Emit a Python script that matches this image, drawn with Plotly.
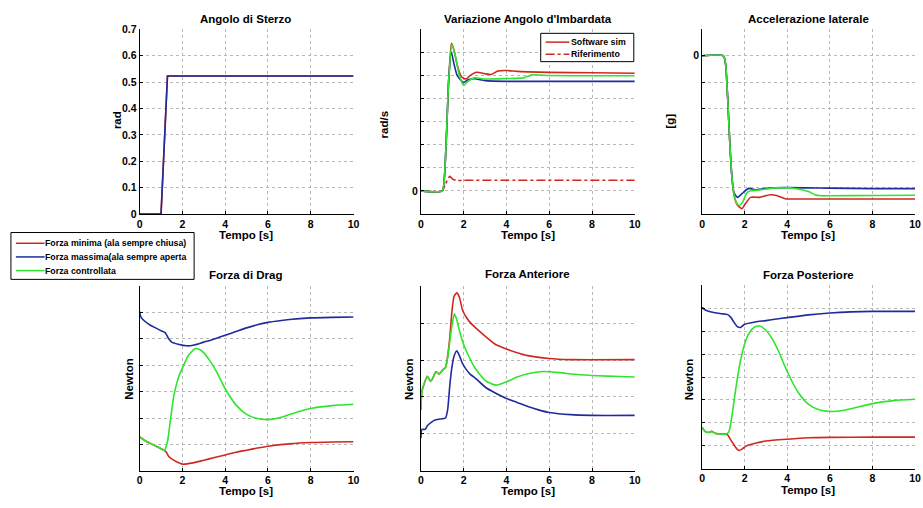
import plotly.graph_objects as go

W, H = 923, 508

# ---------------- data ----------------
series_names = ["Forza minima (ala sempre chiusa)",
                "Forza massima(ala sempre aperta",
                "Forza controllata"]
yaw_legend = ["Software sim", "Riferimento"]

# Angolo di Sterzo [rad]
steer_t = [0, 1.0, 1.3, 10]
steer_min = [0, 0, 0.5236, 0.5236]
steer_max = [0, 0, 0.5236, 0.5236]

# Variazione Angolo d'Imbardata (grid units)
yaw_min_t = [0, 1.0, 1.1, 1.2, 1.3, 1.43, 1.55, 1.7, 1.9, 2.1, 2.3, 2.6, 3.0, 3.3, 3.6, 4.0, 4.5, 5, 6, 8, 10]
yaw_min = [0, 0, 0.6, 2.5, 4.8, 6.4, 6.1, 5.45, 4.95, 4.85, 5.0, 5.14, 5.08, 5.05, 5.2, 5.22, 5.18, 5.16, 5.14, 5.12, 5.1]
yaw_max_t = [0, 1.0, 1.1, 1.2, 1.3, 1.42, 1.55, 1.7, 2.0, 2.2, 2.5, 3.0, 4.0, 6.0, 8, 10]
yaw_max = [0, 0, 0.6, 2.5, 4.8, 6.02, 5.5, 5.0, 4.7, 4.82, 4.86, 4.78, 4.75, 4.75, 4.75, 4.75]
yaw_ctl_t = [0, 1.0, 1.1, 1.2, 1.3, 1.45, 1.6, 1.8, 2.0, 2.2, 2.5, 3.0, 4.0, 4.8, 5.2, 5.6, 6.0, 8, 10]
yaw_ctl = [0, 0, 0.6, 2.5, 4.8, 6.35, 5.9, 5.0, 4.58, 4.75, 4.9, 4.85, 4.87, 4.9, 5.03, 5.02, 5.0, 4.99, 4.99]
yaw_ref_t = [0, 1.0, 1.15, 1.35, 1.5, 1.7, 2.0, 10]
yaw_ref = [0, 0, 0.3, 0.63, 0.5, 0.45, 0.46, 0.46]

# Accelerazione laterale (grid units)
acc_min_t = [0, 1.0, 1.1, 1.2, 1.3, 1.4, 1.5, 1.65, 1.87, 2.0, 2.27, 2.7, 3.2, 3.5, 3.9, 5, 10]
acc_min = [0, 0, -0.3, -1.6, -3.3, -4.6, -5.3, -5.65, -5.8, -5.65, -5.37, -5.37, -5.27, -5.3, -5.42, -5.43, -5.43]
acc_max_t = [0, 1.0, 1.1, 1.2, 1.3, 1.4, 1.5, 1.66, 1.85, 2.05, 2.2, 2.5, 3, 4, 6, 8, 10]
acc_max = [0, 0, -0.3, -1.6, -3.3, -4.6, -5.2, -5.37, -5.25, -5.1, -5.03, -5.08, -5.03, -5.0, -5.02, -5.04, -5.04]
acc_ctl_t = [0, 1.0, 1.1, 1.2, 1.3, 1.4, 1.5, 1.6, 1.73, 1.9, 2.1, 2.27, 2.6, 3.0, 3.8, 4.5, 5.0, 5.3, 5.6, 6.0, 8, 10]
acc_ctl = [0, 0, -0.3, -1.6, -3.3, -4.6, -5.25, -5.55, -5.68, -5.55, -5.2, -5.12, -5.1, -5.05, -5.0, -5.05, -5.15, -5.27, -5.31, -5.31, -5.3, -5.29]

# Forza di Drag (grid units)
drag_min_t = [0, 0.3, 0.6, 0.9, 1.15, 1.25, 1.35, 1.5, 1.75, 2.0, 2.5, 3.0, 3.5, 4.0, 4.5, 5.0, 5.5, 6.0, 7.0, 8.0, 9.0, 10]
drag_min = [1.28, 1.12, 1.0, 0.88, 0.77, 0.7, 0.55, 0.45, 0.33, 0.25, 0.3, 0.4, 0.5, 0.6, 0.7, 0.78, 0.86, 0.93, 1.02, 1.07, 1.09, 1.1]
drag_max_t = [0, 0.05, 0.2, 0.5, 0.8, 1.0, 1.2, 1.35, 1.5, 1.8, 2.2, 2.5, 3.0, 3.5, 4.0, 4.5, 5, 5.5, 6, 7, 8, 9, 10]
drag_max = [6.05, 5.85, 5.7, 5.52, 5.4, 5.31, 5.23, 5.02, 4.88, 4.8, 4.74, 4.76, 4.88, 5.0, 5.14, 5.28, 5.42, 5.54, 5.63, 5.74, 5.8, 5.82, 5.83]
drag_ctl_t = [0, 0.3, 0.6, 0.9, 1.15, 1.3, 1.45, 1.6, 1.8, 2.0, 2.3, 2.6, 2.8, 3.0, 3.3, 3.6, 4.0, 4.5, 5.0, 5.5, 6.0, 6.5, 7.0, 7.5, 8.0, 9.0, 10]
drag_ctl = [1.28, 1.12, 1.0, 0.88, 0.77, 1.1, 2.0, 2.85, 3.5, 3.9, 4.4, 4.63, 4.6, 4.47, 4.15, 3.75, 3.11, 2.5, 2.14, 1.98, 1.94, 2.0, 2.13, 2.26, 2.36, 2.47, 2.52]

# Forza Anteriore (grid units)
ant_min_t = [0, 0.05, 0.15, 0.3, 0.45, 0.55, 0.7, 0.85, 1.0, 1.15, 1.25, 1.35, 1.45, 1.55, 1.68, 1.8, 1.95, 2.1, 2.3, 2.6, 3.0, 3.5, 4.0, 4.5, 5.0, 6.0, 7.0, 10]
ant_min = [1.65, 2.15, 2.35, 2.56, 2.42, 2.5, 2.68, 2.62, 2.72, 2.8, 3.1, 3.6, 4.3, 4.72, 4.82, 4.7, 4.35, 4.18, 4.02, 3.85, 3.65, 3.42, 3.3, 3.2, 3.12, 3.04, 3.01, 3.01]
ant_max_t = [0, 0.05, 0.2, 0.3, 0.5, 0.7, 1.0, 1.15, 1.25, 1.35, 1.45, 1.55, 1.68, 1.8, 1.95, 2.1, 2.3, 2.6, 3.0, 3.5, 4.0, 4.5, 5.0, 5.5, 6.0, 7.0, 8.0, 10]
ant_max = [0.88, 1.12, 1.12, 1.22, 1.32, 1.38, 1.41, 1.43, 1.65, 2.3, 2.8, 3.1, 3.25, 3.12, 2.9, 2.76, 2.62, 2.48, 2.27, 2.1, 1.96, 1.85, 1.74, 1.65, 1.58, 1.52, 1.5, 1.5]
ant_ctl_t = [0, 0.05, 0.15, 0.3, 0.45, 0.55, 0.7, 0.85, 1.0, 1.15, 1.25, 1.35, 1.45, 1.57, 1.7, 1.8, 2.0, 2.2, 2.5, 3.0, 3.5, 4.0, 4.5, 5.0, 5.7, 6.5, 7.0, 8.0, 9.0, 10]
ant_ctl = [1.65, 2.15, 2.35, 2.56, 2.42, 2.5, 2.68, 2.62, 2.72, 2.8, 3.05, 3.5, 3.92, 4.25, 4.05, 3.8, 3.42, 3.15, 2.81, 2.45, 2.32, 2.41, 2.54, 2.63, 2.69, 2.66, 2.62, 2.58, 2.56, 2.54]

# Forza Posteriore (grid units)
post_min_t = [0, 0.15, 0.3, 0.45, 0.6, 0.8, 1.1, 1.2, 1.35, 1.5, 1.65, 1.75, 1.9, 2.1, 2.5, 3.0, 4.0, 5.0, 6.0, 8.0, 10]
post_min = [1.8, 1.62, 1.58, 1.63, 1.55, 1.52, 1.51, 1.48, 1.25, 1.04, 0.85, 0.8, 0.88, 1.0, 1.11, 1.21, 1.29, 1.35, 1.37, 1.38, 1.38]
post_max_t = [0, 0.1, 0.3, 0.6, 0.9, 1.2, 1.35, 1.5, 1.65, 1.8, 2.0, 2.5, 3.0, 3.5, 4.0, 5.0, 6.0, 7.0, 8.0, 10]
post_max = [7.05, 6.95, 6.87, 6.8, 6.76, 6.72, 6.6, 6.38, 6.2, 6.16, 6.3, 6.4, 6.46, 6.53, 6.59, 6.71, 6.79, 6.84, 6.86, 6.86]
post_ctl_t = [0, 0.15, 0.3, 0.45, 0.6, 0.8, 1.1, 1.25, 1.4, 1.6, 1.8, 2.0, 2.2, 2.45, 2.7, 3.0, 3.3, 3.6, 4.0, 4.5, 5.0, 5.5, 6.1, 6.6, 7.0, 8.0, 9.0, 10]
post_ctl = [1.8, 1.62, 1.58, 1.63, 1.55, 1.52, 1.51, 1.6, 2.3, 3.6, 4.7, 5.45, 5.9, 6.17, 6.22, 6.04, 5.65, 5.1, 4.23, 3.35, 2.81, 2.57, 2.5, 2.54, 2.62, 2.84, 2.97, 3.03]

# ---------------- style ----------------
RED, BLUE, GREEN = "#d0281e", "#1f2c9c", "#2ee52e"
FONT = "Liberation Sans, Arial, sans-serif"
GRID = "#b8b8b8"


def px_x(p):
    return p / W


def px_y(p):
    return 1 - p / H


# panel layout in pixels: (left, right, top, bottom)
panels = [
    ("x", "y", (138, 354, 24, 213)),
    ("x2", "y2", (422, 638, 24, 213)),
    ("x3", "y3", (706, 921, 24, 213)),
    ("x4", "y4", (138, 354, 287, 476)),
    ("x5", "y5", (422, 638, 287, 476)),
    ("x6", "y6", (706, 921, 286, 474)),
]

fig = go.Figure()


def add(xa, ya, t, v, color, dash="solid", shape="spline"):
    fig.add_trace(go.Scatter(
        x=t, y=v, xaxis=xa, yaxis=ya, mode="lines",
        line=dict(color=color, width=1.6, dash=dash, shape=shape, smoothing=0.6),
        showlegend=False, hoverinfo="skip"))


add("x", "y", steer_t, steer_min, RED, shape="linear")
add("x", "y", steer_t, steer_max, BLUE, shape="linear")

add("x2", "y2", yaw_ref_t, yaw_ref, RED, dash="dashdot")
add("x2", "y2", yaw_min_t, yaw_min, RED)
add("x2", "y2", yaw_max_t, yaw_max, BLUE)
add("x2", "y2", yaw_ctl_t, yaw_ctl, GREEN)

add("x3", "y3", acc_min_t, acc_min, RED)
add("x3", "y3", acc_max_t, acc_max, BLUE)
add("x3", "y3", acc_ctl_t, acc_ctl, GREEN)

add("x4", "y4", drag_min_t, drag_min, RED)
add("x4", "y4", drag_max_t, drag_max, BLUE)
add("x4", "y4", drag_ctl_t, drag_ctl, GREEN)

add("x5", "y5", ant_min_t, ant_min, RED)
add("x5", "y5", ant_max_t, ant_max, BLUE)
add("x5", "y5", ant_ctl_t, ant_ctl, GREEN)

add("x6", "y6", post_min_t, post_min, RED)
add("x6", "y6", post_max_t, post_max, BLUE)
add("x6", "y6", post_ctl_t, post_ctl, GREEN)

tickfont = dict(family=FONT, size=10.5, color="black", weight="bold")

y_specs = {
    "y": dict(range=[0, 0.7], tickvals=[i / 10 for i in range(8)],
              ticktext=["0", "0.1", "0.2", "0.3", "0.4", "0.5", "0.6", "0.7"]),
    "y2": dict(range=[-1, 7], tickvals=list(range(-1, 8)),
               ticktext=["" if i != 0 else "0" for i in range(-1, 8)]),
    "y3": dict(range=[-6, 1], tickvals=list(range(-6, 2)),
               ticktext=["" if i != 0 else "0" for i in range(-6, 2)]),
    "y4": dict(range=[0, 7], tickvals=list(range(8)), ticktext=[""] * 8),
    "y5": dict(range=[0, 5], tickvals=list(range(6)), ticktext=[""] * 6),
    "y6": dict(range=[0, 8], tickvals=list(range(9)), ticktext=[""] * 9),
}

layout = dict(width=W, height=H, margin=dict(l=0, r=0, t=0, b=0),
              paper_bgcolor="white", plot_bgcolor="white", showlegend=False)

common = dict(showline=True, linecolor="black", linewidth=1, ticks="inside",
              ticklen=3, tickcolor="black", showgrid=True, gridcolor=GRID,
              gridwidth=1, griddash="dot", zeroline=False, mirror=False,
              tickfont=tickfont, fixedrange=True)

for xa, ya, (l, r, t, b) in panels:
    xkey = "xaxis" if xa == "x" else "xaxis" + xa[1:]
    ykey = "yaxis" if ya == "y" else "yaxis" + ya[1:]
    layout[xkey] = dict(common, domain=[px_x(l), px_x(r)], range=[0, 10],
                        tickvals=[0, 2, 4, 6, 8, 10], anchor=ya)
    layout[ykey] = dict(common, domain=[px_y(b), px_y(t)], anchor=xa,
                        tickmode="array", **y_specs[ya])

fig.update_layout(**layout)

title_font = dict(family=FONT, size=11.5, color="black", weight="bold")
titles = [
    ("Angolo di Sterzo", 245, 13),
    ("Variazione Angolo d'Imbardata", 530, 13),
    ("Accelerazione laterale", 813, 13),
    ("Forza di Drag", 245, 276),
    ("Forza Anteriore", 530, 274),
    ("Forza Posteriore", 813, 275),
]
ann = []
for txt, x, y in titles:
    ann.append(dict(text=txt, x=px_x(x), y=px_y(y), xref="paper", yref="paper",
                    showarrow=False, xanchor="center", yanchor="middle",
                    font=title_font))

for x, y in [(245, 235), (530, 235), (813, 235), (245, 497), (530, 497), (813, 496)]:
    ann.append(dict(text="Tempo [s]", x=px_x(x), y=px_y(y), xref="paper", yref="paper",
                    showarrow=False, xanchor="center", yanchor="middle",
                    font=title_font))

for txt, x, y in [("rad", 115, 117), ("rad/s", 385, 121), ("[g]", 674, 118),
                  ("Newton", 127, 382), ("Newton", 410, 382), ("Newton", 693, 382)]:
    ann.append(dict(text=txt, x=px_x(x), y=px_y(y), xref="paper", yref="paper",
                    showarrow=False, xanchor="center", yanchor="middle", textangle=-90,
                    font=title_font))

shapes = []
legend_font = dict(family=FONT, size=8.8, color="black", weight="bold")
# legend of the three wing strategies
shapes.append(dict(type="rect", xref="paper", yref="paper",
                   x0=px_x(8), x1=px_x(193), y0=px_y(280), y1=px_y(232),
                   line=dict(color="black", width=1), fillcolor="white"))
for i, (name, col) in enumerate(zip(series_names, [RED, BLUE, GREEN])):
    yy = 243 + i * 14
    shapes.append(dict(type="line", xref="paper", yref="paper",
                       x0=px_x(13), x1=px_x(42), y0=px_y(yy), y1=px_y(yy),
                       line=dict(color=col, width=1.5)))
    ann.append(dict(text=name, x=px_x(40), y=px_y(yy), xref="paper", yref="paper",
                    showarrow=False, xanchor="left", yanchor="middle",
                    font=legend_font))

# legend of the yaw-rate panel
shapes.append(dict(type="rect", xref="paper", yref="paper",
                   x0=px_x(543), x1=px_x(637), y0=px_y(57), y1=px_y(28),
                   line=dict(color="black", width=1), fillcolor="white"))
for i, (name, dash) in enumerate(zip(yaw_legend, ["solid", "dashdot"])):
    yy = 37 + i * 12.5
    shapes.append(dict(type="line", xref="paper", yref="paper",
                       x0=px_x(548), x1=px_x(572), y0=px_y(yy), y1=px_y(yy),
                       line=dict(color=RED, width=1.5, dash=dash)))
    ann.append(dict(text=name, x=px_x(572), y=px_y(yy), xref="paper", yref="paper",
                    showarrow=False, xanchor="left", yanchor="middle",
                    font=legend_font))

fig.update_layout(annotations=ann, shapes=shapes)
fig.write_html("out.html")
